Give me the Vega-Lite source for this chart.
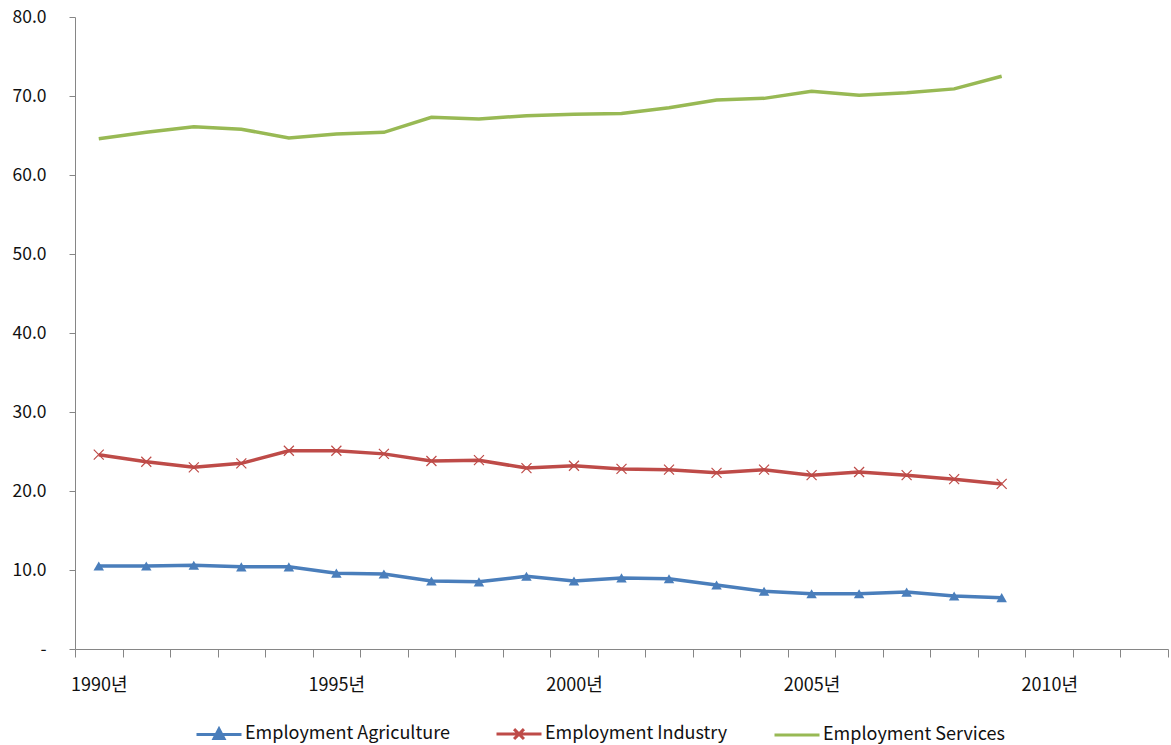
{
  "$schema": "https://vega.github.io/schema/vega-lite/v6.json",
  "autosize": {"type": "none"},
  "padding": {"left": 75, "top": 17, "right": 3, "bottom": 96},
  "width": 1093,
  "height": 632,
  "background": "white",
  "config": {
    "view": {"stroke": null},
    "font": "Noto Sans CJK KR",
    "axis": {"labelFont": "Noto Sans CJK KR", "labelColor": "#111111", "domainColor": "#868686", "tickColor": "#868686", "grid": false, "title": null}
  },
  "data": {"values": [
    {"year": 1990, "series": "Employment Agriculture", "value": 10.5},
    {"year": 1991, "series": "Employment Agriculture", "value": 10.5},
    {"year": 1992, "series": "Employment Agriculture", "value": 10.6},
    {"year": 1993, "series": "Employment Agriculture", "value": 10.4},
    {"year": 1994, "series": "Employment Agriculture", "value": 10.4},
    {"year": 1995, "series": "Employment Agriculture", "value": 9.6},
    {"year": 1996, "series": "Employment Agriculture", "value": 9.5},
    {"year": 1997, "series": "Employment Agriculture", "value": 8.6},
    {"year": 1998, "series": "Employment Agriculture", "value": 8.5},
    {"year": 1999, "series": "Employment Agriculture", "value": 9.2},
    {"year": 2000, "series": "Employment Agriculture", "value": 8.6},
    {"year": 2001, "series": "Employment Agriculture", "value": 9.0},
    {"year": 2002, "series": "Employment Agriculture", "value": 8.9},
    {"year": 2003, "series": "Employment Agriculture", "value": 8.1},
    {"year": 2004, "series": "Employment Agriculture", "value": 7.3},
    {"year": 2005, "series": "Employment Agriculture", "value": 7.0},
    {"year": 2006, "series": "Employment Agriculture", "value": 7.0},
    {"year": 2007, "series": "Employment Agriculture", "value": 7.2},
    {"year": 2008, "series": "Employment Agriculture", "value": 6.7},
    {"year": 2009, "series": "Employment Agriculture", "value": 6.5},
    {"year": 1990, "series": "Employment Industry", "value": 24.6},
    {"year": 1991, "series": "Employment Industry", "value": 23.7},
    {"year": 1992, "series": "Employment Industry", "value": 23.0},
    {"year": 1993, "series": "Employment Industry", "value": 23.5},
    {"year": 1994, "series": "Employment Industry", "value": 25.1},
    {"year": 1995, "series": "Employment Industry", "value": 25.1},
    {"year": 1996, "series": "Employment Industry", "value": 24.7},
    {"year": 1997, "series": "Employment Industry", "value": 23.8},
    {"year": 1998, "series": "Employment Industry", "value": 23.9},
    {"year": 1999, "series": "Employment Industry", "value": 22.9},
    {"year": 2000, "series": "Employment Industry", "value": 23.2},
    {"year": 2001, "series": "Employment Industry", "value": 22.8},
    {"year": 2002, "series": "Employment Industry", "value": 22.7},
    {"year": 2003, "series": "Employment Industry", "value": 22.3},
    {"year": 2004, "series": "Employment Industry", "value": 22.7},
    {"year": 2005, "series": "Employment Industry", "value": 22.0},
    {"year": 2006, "series": "Employment Industry", "value": 22.4},
    {"year": 2007, "series": "Employment Industry", "value": 22.0},
    {"year": 2008, "series": "Employment Industry", "value": 21.5},
    {"year": 2009, "series": "Employment Industry", "value": 20.9},
    {"year": 1990, "series": "Employment Services", "value": 64.6},
    {"year": 1991, "series": "Employment Services", "value": 65.4},
    {"year": 1992, "series": "Employment Services", "value": 66.1},
    {"year": 1993, "series": "Employment Services", "value": 65.8},
    {"year": 1994, "series": "Employment Services", "value": 64.7},
    {"year": 1995, "series": "Employment Services", "value": 65.2},
    {"year": 1996, "series": "Employment Services", "value": 65.4},
    {"year": 1997, "series": "Employment Services", "value": 67.3},
    {"year": 1998, "series": "Employment Services", "value": 67.1},
    {"year": 1999, "series": "Employment Services", "value": 67.5},
    {"year": 2000, "series": "Employment Services", "value": 67.7},
    {"year": 2001, "series": "Employment Services", "value": 67.8},
    {"year": 2002, "series": "Employment Services", "value": 68.5},
    {"year": 2003, "series": "Employment Services", "value": 69.5},
    {"year": 2004, "series": "Employment Services", "value": 69.7},
    {"year": 2005, "series": "Employment Services", "value": 70.6},
    {"year": 2006, "series": "Employment Services", "value": 70.1},
    {"year": 2007, "series": "Employment Services", "value": 70.4},
    {"year": 2008, "series": "Employment Services", "value": 70.9},
    {"year": 2009, "series": "Employment Services", "value": 72.5}
  ]},
  "encoding": {
    "x": {
      "field": "year", "type": "ordinal",
      "scale": {"domain": [1990,1991,1992,1993,1994,1995,1996,1997,1998,1999,2000,2001,2002,2003,2004,2005,2006,2007,2008,2009,2010,2011,2012], "paddingInner": 0, "paddingOuter": 0},
      "axis": {"labelAngle": 0, "tickBand": "extent", "tickSize": 8, "labelPadding": 19, "labelFontSize": 18, "labelExpr": "datum.value % 5 == 0 ? datum.value + '년' : ''"}
    },
    "y": {
      "field": "value", "type": "quantitative",
      "scale": {"domain": [0, 80], "nice": false},
      "axis": {"values": [0,10,20,30,40,50,60,70,80], "tickSize": 6, "labelPadding": 23, "labelFontSize": 17.5, "labelExpr": "datum.value == 0 ? '-' : format(datum.value, '.1f')"}
    },
    "color": {
      "field": "series", "type": "nominal",
      "scale": {"domain": ["Employment Agriculture", "Employment Industry", "Employment Services"], "range": ["#4a7ebb", "#be4b48", "#98b954"]}
    }
  },
  "layer": [
    {
      "mark": {"type": "line", "strokeWidth": 3.5},
      "encoding": {
        "color": {
          "field": "series", "type": "nominal",
          "legend": {
            "orient": "none", "legendX": 120, "legendY": 693, "direction": "horizontal", "title": null,
            "labelFontSize": 18, "labelFont": "Noto Sans CJK KR", "labelColor": "#111111", "labelLimit": 400, "columnPadding": 40, "labelOffset": 2,
            "symbolSize": 2025, "symbolStrokeWidth": 3,
            "encode": {"symbols": {"update": {
              "shape": {"signal": "datum.value == 'Employment Agriculture' ? 'M-1,0L1,0M-0.22,0.18L0,-0.24L0.22,0.18Z' : (datum.value == 'Employment Industry' ? 'M-1,0L1,0M-0.22,-0.22L0.22,0.22M-0.22,0.22L0.22,-0.22' : 'M-1,0L1,0')"},
              "fill": {"signal": "datum.value == 'Employment Agriculture' ? '#4a7ebb' : 'transparent'"}
            }}}
          }
        }
      }
    },
    {
      "transform": [{"filter": "datum.series == 'Employment Agriculture'"}],
      "mark": {"type": "point", "shape": "triangle-up", "filled": true, "size": 110, "opacity": 1}
    },
    {
      "transform": [{"filter": "datum.series == 'Employment Industry'"}],
      "mark": {"type": "point", "shape": "M-1,-1L1,1M-1,1L1,-1", "filled": false, "size": 100, "strokeWidth": 1.2, "opacity": 1}
    }
  ]
}
